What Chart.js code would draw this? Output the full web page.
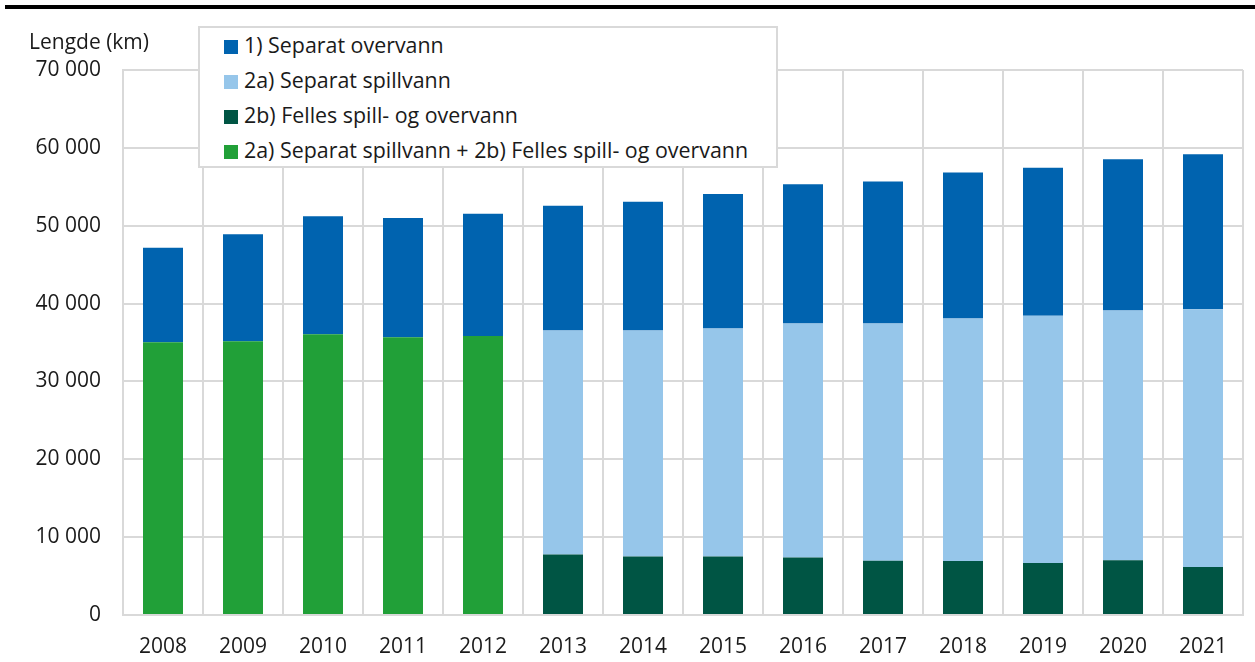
<!DOCTYPE html>
<html>
<head>
<meta charset="utf-8">
<script src="https://cdn.jsdelivr.net/npm/chart.js@4/dist/chart.umd.min.js"></script>
<style>
  body { margin: 0; background: #fff; font-family: "Open Sans", sans-serif; }
  #wrap { position: relative; width: 1255px; height: 662px; }
  #topline { position: absolute; left: 5px; top: 5px; right: 0; height: 4px; background: #000; }
  #ytitle { position: absolute; left: 29px; top: 27px; font-size: 21px; color: #1a1a1a; }
  #legend { position: absolute; left: 198px; top: 26px; width: 576px; height: 138px;
            border: 2px solid #d9d9d9; background: #fff; }
  .item { height: 35px; line-height: 34px; font-size: 21.4px; color: #1a1a1a; padding-left: 24px; white-space: nowrap; }
  .box { display: inline-block; width: 14px; height: 14px; margin-right: 6px; vertical-align: -1px; }
</style>
</head>
<body>
<div id="wrap">
  <canvas id="chart"></canvas>
  <div id="topline"></div>
  <div id="ytitle">Lengde (km)</div>
  <div id="legend"></div>
</div>
<script>
var years = ['2008', '2009', '2010', '2011', '2012', '2013', '2014', '2015', '2016', '2017', '2018', '2019', '2020', '2021'];

// 1) Separat overvann
var overvann = [12140, 13720, 15130, 15300, 15690, 16020, 16540, 17260, 17900, 18240, 18760, 19020, 19450, 19920];
// 2a) Separat spillvann
var spillvann = [null, null, null, null, null, 28780, 29040, 29300, 30070, 30460, 31140, 31740, 32070, 33110];
// 2b) Felles spill- og overvann
var felles = [null, null, null, null, null, 7760, 7500, 7500, 7370, 6980, 6940, 6680, 7030, 6160];
// 2a) + 2b) samlet (kun 2008-2012)
var samlet = [35040, 35170, 36070, 35680, 35850, null, null, null, null, null, null, null, null, null];

var yTicks = [0, 10000, 20000, 30000, 40000, 50000, 60000, 70000];

function fmt(v) {
    return String(v).replace(/\B(?=(\d{3})+(?!\d))/g, ' ');
}

Chart.defaults.font.family = '"Open Sans", sans-serif';
Chart.defaults.font.size = 21;
Chart.defaults.color = '#1a1a1a';

var chart = new Chart(document.getElementById('chart'), {
    type: 'bar',
    data: {
        labels: years,
        datasets: [
            { label: '2a) Separat spillvann + 2b) Felles spill- og overvann', data: samlet, backgroundColor: '#21a038', legendOrder: 4 },
            { label: '2b) Felles spill- og overvann', data: felles, backgroundColor: '#005544', legendOrder: 3 },
            { label: '2a) Separat spillvann', data: spillvann, backgroundColor: '#96c6ea', legendOrder: 2 },
            { label: '1) Separat overvann', data: overvann, backgroundColor: '#0063af', legendOrder: 1 }
        ]
    },
    options: {
        responsive: true,
        maintainAspectRatio: false,
        animation: false,
        barPercentage: 0.5,
        categoryPercentage: 1.0,
        layout: { padding: { top: 70, right: 12, left: 0, bottom: 0 } },
        plugins: {
            legend: { display: false },
            tooltip: { enabled: false }
        },
        scales: {
            x: {
                stacked: true,
                grid: { color: '#d9d9d9', lineWidth: 2, drawTicks: false, offset: true },
                border: { color: '#d9d9d9', width: 2 },
                ticks: { padding: 19 },
                afterFit: function(scale) { scale.height = 47; }
            },
            y: {
                stacked: true,
                min: 0,
                max: 70000,
                afterBuildTicks: function(scale) {
                    scale.ticks = yTicks.map(function(v) { return { value: v }; });
                },
                grid: { color: '#d9d9d9', lineWidth: 2, drawTicks: false },
                border: { color: '#d9d9d9', width: 2 },
                ticks: { padding: 22, callback: function(v) { return fmt(v); } },
                afterFit: function(scale) { scale.width = 123; }
            }
        }
    }
});

// legend drawn as html so it can sit over the plot like in the original
var legendEl = document.getElementById('legend');
chart.data.datasets.slice().sort(function(a, b) { return a.legendOrder - b.legendOrder; }).forEach(function(ds) {
    var row = document.createElement('div');
    row.className = 'item';
    var sq = document.createElement('span');
    sq.className = 'box';
    sq.style.background = ds.backgroundColor;
    row.appendChild(sq);
    row.appendChild(document.createTextNode(ds.label));
    legendEl.appendChild(row);
});
</script>
</body>
</html>
